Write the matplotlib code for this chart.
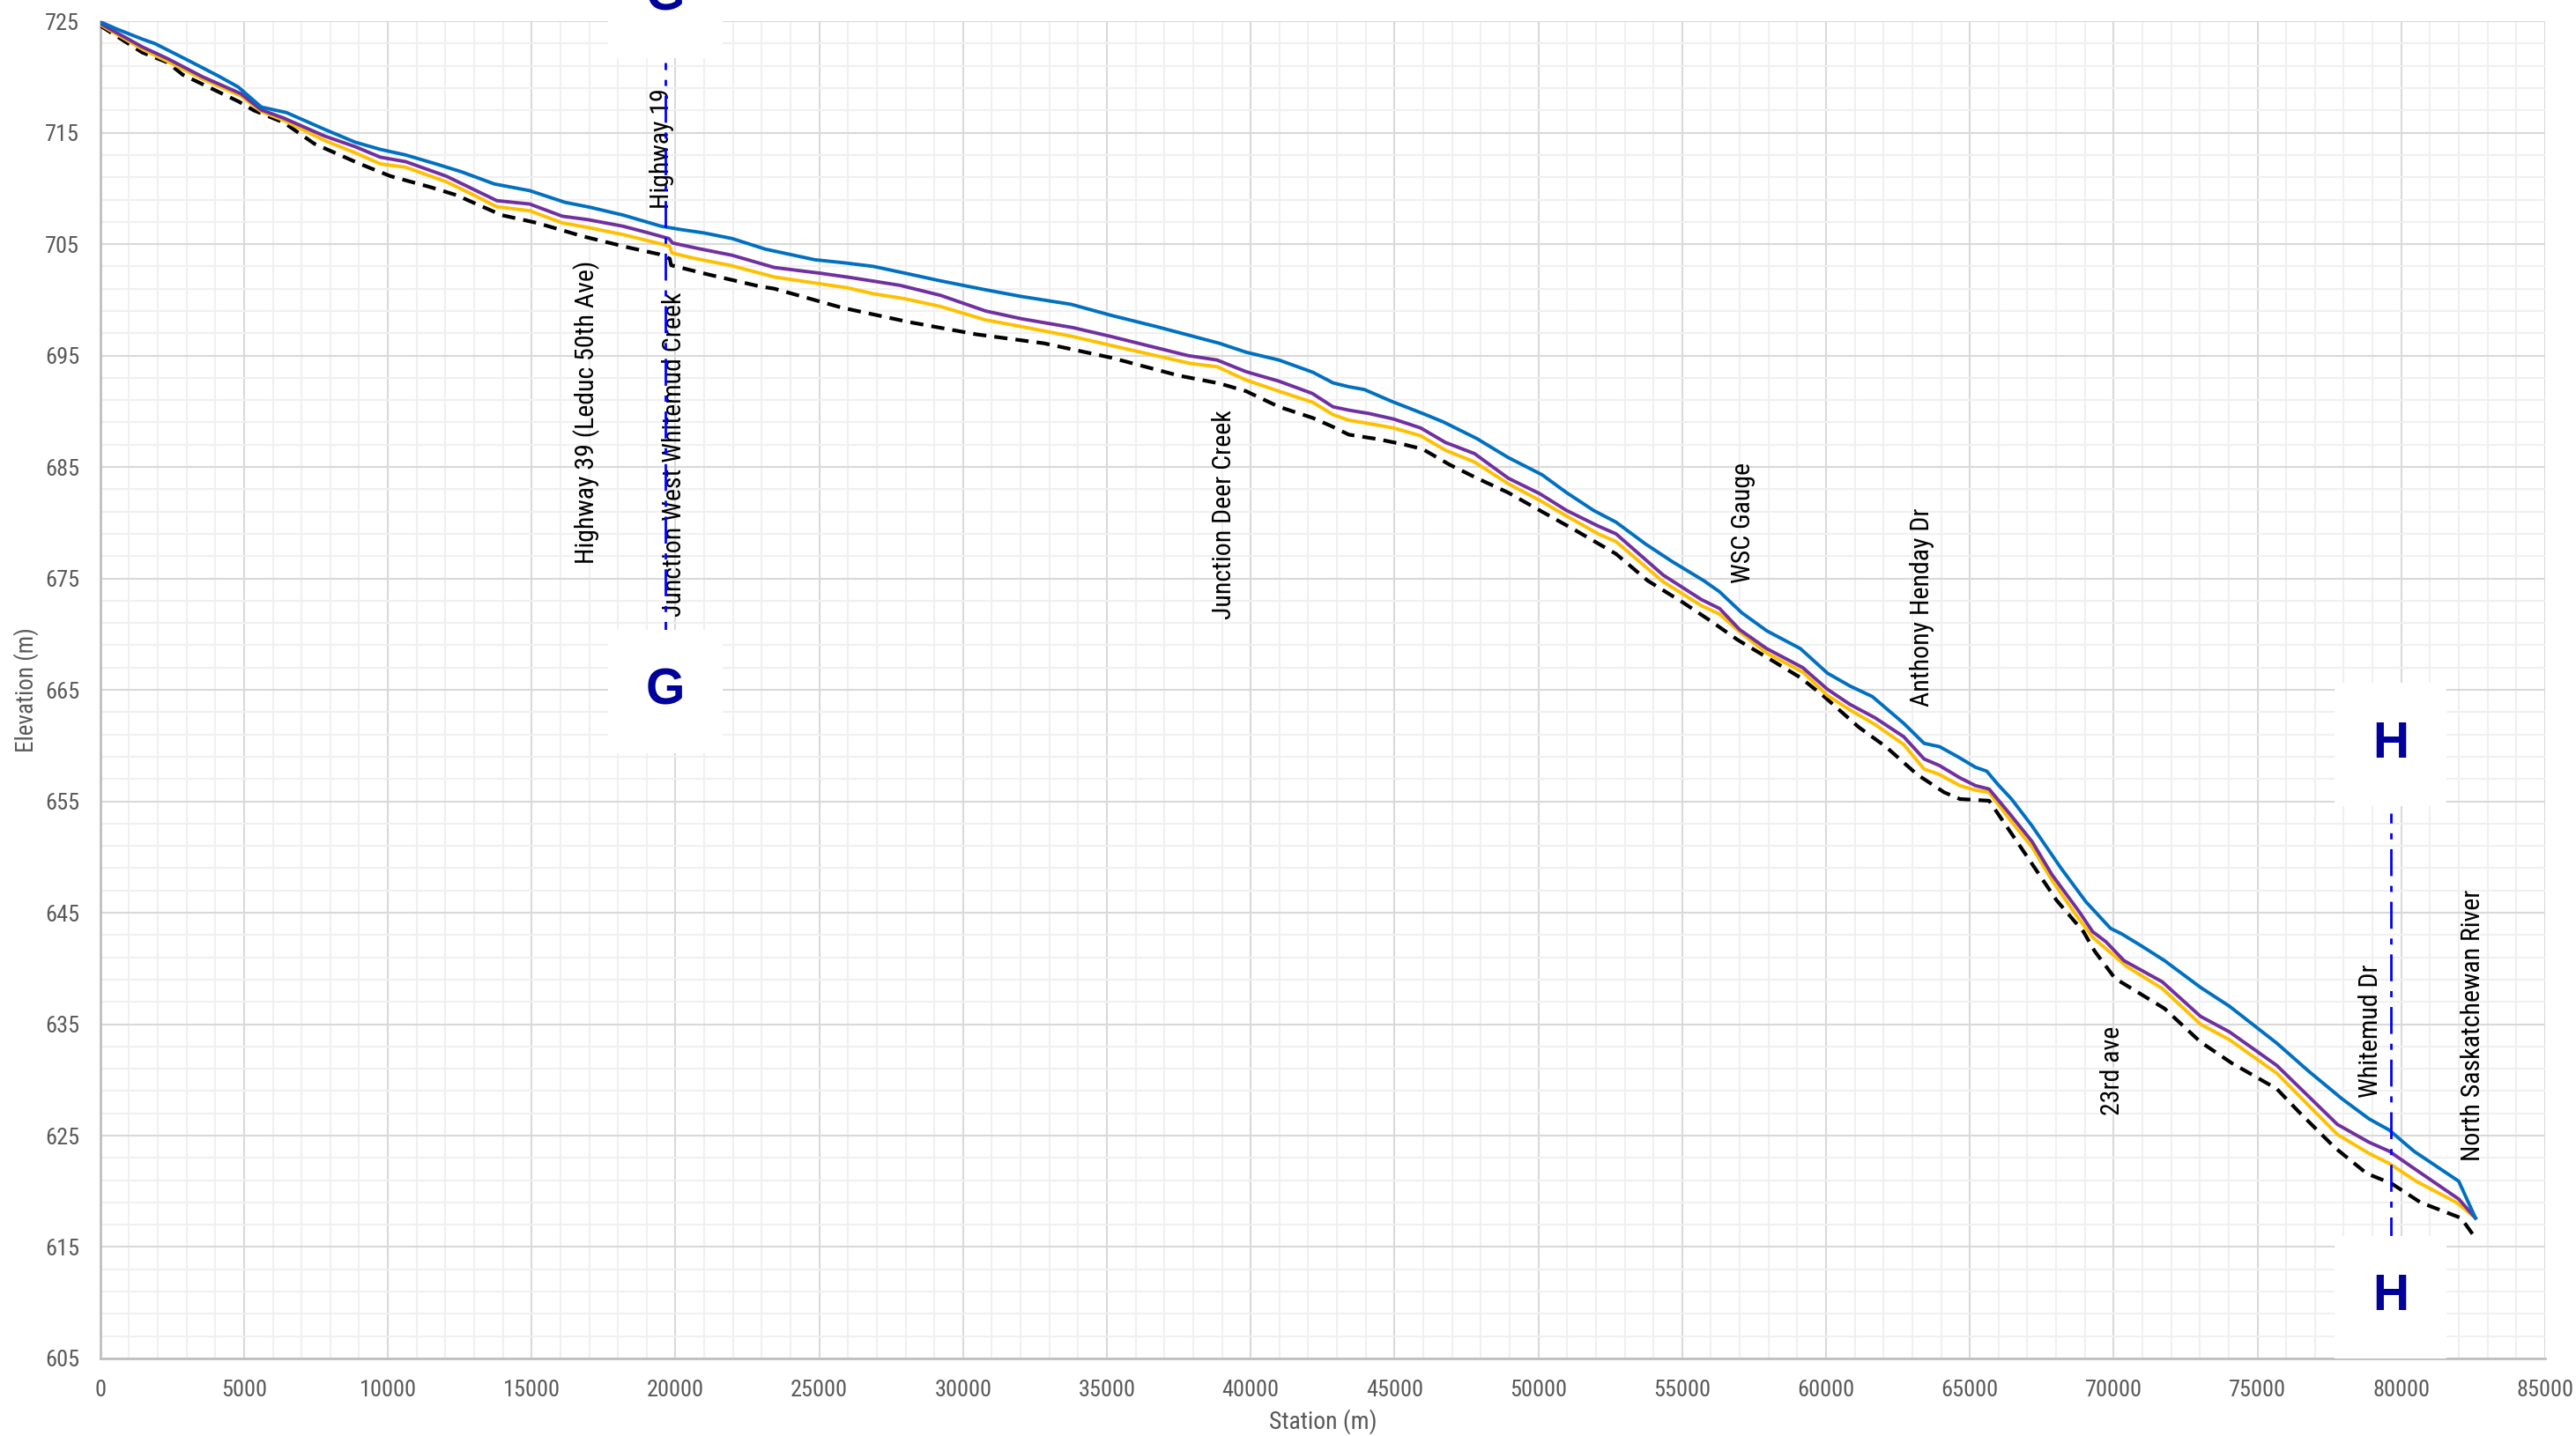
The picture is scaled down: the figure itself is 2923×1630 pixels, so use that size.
import matplotlib
matplotlib.use('Agg')
import matplotlib.pyplot as plt
import numpy as np

# ---- profile data (station m, elevation m) ----
blue_sta = [0, 580, 1460, 1900, 3050, 4100, 4800, 5600, 6480, 7800, 8860, 9740, 10620, 11670,
            12550, 13700, 14930, 16160, 17040, 18190, 19510, 20210, 21000, 21970, 23125, 24840,
            25940, 26880, 27970, 29220, 30780, 32030, 33750, 35160, 36720, 38910, 39840, 40980,
            42160, 42860, 43410, 43950, 44890, 45980, 46690, 47860, 48950, 50130, 50980, 51920,
            52700, 53720, 54660, 55750, 56300, 57080, 57940, 59110, 60050, 60830, 61610, 62700,
            63410, 63950, 64580, 65200, 65590, 65980, 66450, 67160, 68170, 69030, 69890, 70280,
            70980, 71770, 73020, 74030, 75670, 76770, 77940, 78880, 79580, 80440, 82000, 82580]
blue_elev = [724.95, 724.3, 723.4, 723.0, 721.5, 720.1, 719.1, 717.3, 716.8, 715.3, 714.15, 713.5,
             713.0, 712.2, 711.5, 710.4, 709.8, 708.75, 708.3, 707.6, 706.6, 706.3, 706.0, 705.5,
             704.55, 703.6, 703.3, 703.0, 702.4, 701.7, 700.9, 700.3, 699.6, 698.6, 697.6, 696.1,
             695.3, 694.6, 693.5, 692.55, 692.2, 691.95, 690.9, 689.8, 689.05, 687.55, 685.85,
             684.3, 682.7, 681.1, 680.05, 678.1, 676.5, 674.8, 673.8, 671.9, 670.3, 668.7, 666.5,
             665.35, 664.4, 662.0, 660.2, 659.9, 659.0, 658.05, 657.7, 656.5, 655.2, 652.8, 649.0,
             646.0, 643.6, 643.1, 642.0, 640.7, 638.3, 636.6, 633.3, 630.8, 628.3, 626.5, 625.5,
             623.6, 620.9, 617.6]

purple_sta = [0, 1460, 2340, 3570, 4890, 5600, 6390, 7800, 8860, 9740, 10620, 12030, 12990, 13790,
              14930, 16070, 16950, 18190, 19070, 19770, 19900, 20800, 21970, 23440, 25000, 26090,
              27810, 29220, 30780, 32030, 33830, 35160, 37810, 38830, 39840, 40980, 42140, 42860,
              43410, 44110, 44970, 45910, 46770, 47780, 48950, 50050, 50980, 52080, 52700, 54340,
              55670, 56300, 57000, 57940, 59190, 60050, 60830, 61700, 62700, 63410, 63950, 64660,
              65200, 65670, 66380, 67160, 67860, 68800, 69270, 69730, 70360, 71690, 73020, 74030,
              75670, 77780, 78880, 79580, 80360, 82000, 82580]
purple_elev = [724.8, 722.7, 721.65, 720.0, 718.5, 717.05, 716.3, 714.7, 713.75, 712.8, 712.4,
               711.1, 709.9, 708.9, 708.6, 707.5, 707.2, 706.6, 706.0, 705.5, 705.1, 704.6, 704.0,
               702.9, 702.4, 702.0, 701.3, 700.4, 699.0, 698.3, 697.5, 696.7, 695.0, 694.6, 693.55,
               692.7, 691.6, 690.4, 690.1, 689.8, 689.3, 688.5, 687.2, 686.2, 684.0, 682.6, 681.1,
               679.7, 679.0, 675.3, 673.1, 672.3, 670.4, 668.7, 667.0, 665.05, 663.7, 662.5, 660.8,
               658.8, 658.2, 657.1, 656.4, 656.1, 653.9, 651.4, 648.4, 645.1, 643.3, 642.4, 640.7,
               638.8, 635.7, 634.3, 631.3, 626.0, 624.4, 623.6, 622.2, 619.3, 617.6]

yellow_sta = [0, 1460, 2340, 3570, 4890, 5600, 6390, 7800, 8860, 9740, 10620, 12030, 12990, 13790,
              14930, 16070, 16950, 18190, 19680, 19800, 19880, 20700, 21900, 23440, 25000, 25940,
              26880, 27970, 29220, 30780, 32030, 33830, 35160, 37890, 38830, 39840, 40980, 42160,
              42860, 43410, 44110, 44970, 45910, 46770, 47780, 48950, 50050, 50980, 52080, 52700,
              54340, 55670, 56300, 57000, 57940, 59190, 60050, 60830, 61700, 62700, 63410, 63950,
              64660, 65200, 65670, 66380, 67160, 67860, 68720, 69270, 69810, 70440, 71690, 73020,
              74030, 75670, 77780, 78880, 79580, 80520, 81920, 82580]
yellow_elev = [724.7, 722.5, 721.4, 719.8, 718.3, 716.9, 716.1, 714.3, 713.2, 712.2, 711.9, 710.6,
               709.4, 708.35, 708.0, 706.9, 706.5, 705.85, 704.9, 704.8, 704.2, 703.7, 703.1,
               702.05, 701.45, 701.1, 700.55, 700.1, 699.4, 698.2, 697.6, 696.7, 695.9, 694.3,
               694.0, 692.8, 691.8, 690.8, 689.7, 689.2, 688.9, 688.5, 687.8, 686.5, 685.45, 683.5,
               682.0, 680.6, 679.0, 678.3, 674.7, 672.55, 671.8, 670.2, 668.3, 666.6, 664.5, 663.2,
               661.9, 660.1, 657.9, 657.4, 656.4, 656.0, 655.8, 653.4, 650.9, 647.9, 644.7, 642.8,
               641.6, 640.2, 638.2, 635.0, 633.6, 630.6, 625.1, 623.4, 622.5, 620.9, 619.0, 617.6]

bed_sta = [0, 1460, 2340, 2870, 4810, 5340, 6390, 7450, 9030, 10090, 11500, 12380, 13960, 15190,
           16780, 18360, 19420, 19800, 19850, 21100, 22940, 23440, 25780, 28130, 30470, 32810,
           35160, 37500, 38910, 39840, 40980, 42160, 42860, 43410, 44420, 45360, 45980, 46920,
           47860, 48950, 50050, 51300, 52700, 53800, 55050, 55980, 56920, 58020, 59110, 59890,
           61140, 62080, 63170, 64110, 64660, 65670, 66450, 67080, 68020, 68950, 69340, 70050,
           71770, 73020, 74110, 75670, 76450, 77700, 78800, 79660, 80670, 82080, 82580]
bed_elev = [724.6, 722.2, 721.3, 720.2, 717.8, 717.0, 715.9, 714.0, 712.2, 711.1, 710.1, 709.4,
            707.6, 706.9, 705.7, 704.7, 704.1, 703.7, 703.1, 702.3, 701.2, 701.0, 699.3, 698.0,
            696.9, 696.1, 694.8, 693.2, 692.5, 691.8, 690.4, 689.4, 688.6, 687.9, 687.5, 687.0,
            686.6, 685.2, 684.0, 682.7, 681.1, 679.3, 677.2, 674.8, 672.8, 671.2, 669.5, 667.8,
            666.1, 664.5, 661.65, 659.9, 657.4, 655.8, 655.2, 655.05, 652.1, 649.7, 646.1, 643.3,
            641.55, 639.1, 636.4, 633.4, 631.5, 629.2, 627.1, 623.9, 621.6, 620.7, 619.0, 617.6,
            615.8]

# ---- landmark labels (text, station, elevation where text starts) ----
lm_text = ['Highway 39 (Leduc 50th Ave)', 'Highway 19', 'Junction West Whitemud Creek',
           'Junction Deer Creek', 'WSC Gauge', 'Anthony Henday Dr', '23rd ave', 'Whitemud Dr',
           'North Saskatchewan River']
lm_sta = [16900, 19530, 19940, 39070, 57120, 63350, 69970, 78940, 82480]
lm_elev = [676.3, 708.2, 671.6, 671.3, 674.6, 663.5, 626.8, 628.4, 622.7]

# ---- cross-section markers ----
xs_name = ['G', 'H']
xs_sta = [19650, 79630]

NARROW = ['Liberation Sans Narrow', 'Roboto Condensed', 'PT Sans Narrow', 'DejaVu Sans']
GREY = '#595959'

fig = plt.figure(figsize=(29.23, 16.30), dpi=100)
ax = fig.add_axes([0.0389, 0.054, 0.9491, 0.9312])

ax.plot(bed_sta, bed_elev, color='black', lw=3, ls=(0, (3.6, 2.2)), zorder=3)
ax.plot(yellow_sta, yellow_elev, color='#ffc000', lw=2.8, zorder=3)
ax.plot(purple_sta, purple_elev, color='#7030a0', lw=2.8, zorder=3)
ax.plot(blue_sta, blue_elev, color='#0070c0', lw=2.8, zorder=3)

ax.set_xlim(0, 85000)
ax.set_ylim(605, 725)
ax.set_xticks(np.arange(0, 85001, 5000))
ax.set_xticks(np.arange(0, 85001, 1000), minor=True)
ax.set_yticks(np.arange(605, 726, 10))
ax.set_yticks(np.arange(605, 726, 2), minor=True)
ax.set_axisbelow(True)
ax.grid(which='minor', color='#f0f0f0', lw=1.5)
ax.grid(which='major', color='#d9d9d9', lw=1.5)
ax.tick_params(which='both', length=0)
ax.tick_params(which='major', pad=17, labelsize=19, labelcolor=GREY)
for lab in ax.get_xticklabels() + ax.get_yticklabels():
    lab.set_family(NARROW)
for side in ['top', 'right']:
    ax.spines[side].set_visible(False)
for side in ['left', 'bottom']:
    ax.spines[side].set_color('#bfbfbf')
    ax.spines[side].set_linewidth(2)

ax.set_xlabel('Station (m)', fontsize=20, color=GREY, family=NARROW)
ax.xaxis.set_label_coords(0.5, -0.047)
ax.xaxis.label.set_va('center')
ax.set_ylabel('Elevation (m)', fontsize=19.5, color=GREY, family=NARROW)
ax.yaxis.set_label_coords(-0.0302, 0.5)
ax.yaxis.label.set_va('center')

for t, s, e in zip(lm_text, lm_sta, lm_elev):
    ax.text(s, e, t, rotation=90, ha='center', va='bottom', fontsize=21.5,
            family=NARROW, color='black', zorder=4)

# section lines with lettered boxes at both ends
sec_span = [(668.7, 721.3), (615.3, 653.9)]
sec_box = [(727.2, 664.85), (660.1, 610.5)]
for name, s, (y0, y1), (ya, yb) in zip(xs_name, xs_sta, sec_span, sec_box):
    ax.plot([s, s], [y0, y1], color='#0000ff', lw=2, ls=(0, (11, 4, 2.5, 4)), zorder=5)
    for yy in (ya, yb):
        ax.text(s, yy, name, ha='center', va='center', fontsize=41, fontweight='bold',
                family='Liberation Sans', color='#00009a', zorder=6, clip_on=False,
                bbox=dict(boxstyle='square,pad=0.75', fc='white', ec='none'))

fig.savefig('out.png', dpi=100)
